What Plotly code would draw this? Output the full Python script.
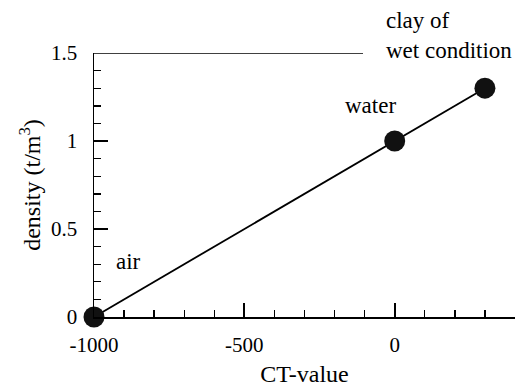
import plotly.graph_objects as go

ct_values = [-1000, 0, 300]
densities = [0, 1, 1.3]
materials = ["air", "water", "clay of<br>wet condition"]
x_ticks = [-1000, -500, 0]
x_tick_labels = ["-1000", "-500", "0"]
y_ticks = [0, 0.5, 1, 1.5]
y_tick_labels = ["0", "0.5", "1", "1.5"]

FONT = "Liberation Serif"
LBL = 23

fig = go.Figure()
fig.add_trace(go.Scatter(
    x=ct_values, y=densities, mode="lines+markers",
    line=dict(color="black", width=1.8),
    marker=dict(color="#111111", size=21),
    cliponaxis=False, showlegend=False, hoverinfo="skip",
))

# labels
fig.add_annotation(x=ct_values[0], y=densities[0], text=materials[0], showarrow=False,
                   xanchor="center", yanchor="middle", xshift=34, yshift=56,
                   font=dict(family=FONT, size=LBL, color="black"))
fig.add_annotation(x=ct_values[1], y=densities[1], text=materials[1], showarrow=False,
                   xanchor="center", yanchor="middle", xshift=-24, yshift=36,
                   font=dict(family=FONT, size=LBL, color="black"))
fig.add_annotation(x=ct_values[2], y=densities[2], text=materials[2], showarrow=False,
                   xanchor="left", yanchor="middle", xshift=-101, yshift=53,
                   align="left", font=dict(family=FONT, size=LBL, color="black"))

# partial top frame line
fig.add_shape(type="line", xref="paper", yref="y", x0=0, x1=0.639, y0=1.5, y1=1.5,
              line=dict(color="black", width=1.3))

fig.update_xaxes(
    range=[-1000, 400], showgrid=False, zeroline=False, automargin=False,
    showline=True, linecolor="black", linewidth=1.5,
    ticks="inside", ticklen=14, tickwidth=1.8, tickcolor="black",
    tickvals=x_ticks, ticktext=x_tick_labels,
    minor=dict(ticks="inside", ticklen=7, dtick=100, tickwidth=1.4, tickcolor="black", showgrid=False),
    tickfont=dict(family=FONT, size=21, color="black"),
    ticklabelstandoff=8,
    title=dict(text="CT-value", font=dict(family=FONT, size=24, color="black"), standoff=11),
)
fig.update_yaxes(
    range=[0, 1.5], showgrid=False, zeroline=False, automargin=False,
    showline=True, linecolor="black", linewidth=1.5,
    ticks="inside", ticklen=14, tickwidth=1.8, tickcolor="black",
    tickvals=y_ticks, ticktext=y_tick_labels,
    minor=dict(ticks="inside", ticklen=7, dtick=0.1, tickwidth=1.4, tickcolor="black", showgrid=False),
    tickfont=dict(family=FONT, size=21, color="black"),
    ticklabelstandoff=11,
    title=dict(text="density (t/m<sup>3</sup>)", font=dict(family=FONT, size=24, color="black"), standoff=3),
)

fig.update_layout(
    width=526, height=387,
    margin=dict(l=94, r=11, t=53, b=70),
    paper_bgcolor="white", plot_bgcolor="white",
)

fig.write_html("out.html", config={"displayModeBar": False, "staticPlot": True},
               post_script="document.body.style.margin='0';document.body.style.overflow='hidden';")
